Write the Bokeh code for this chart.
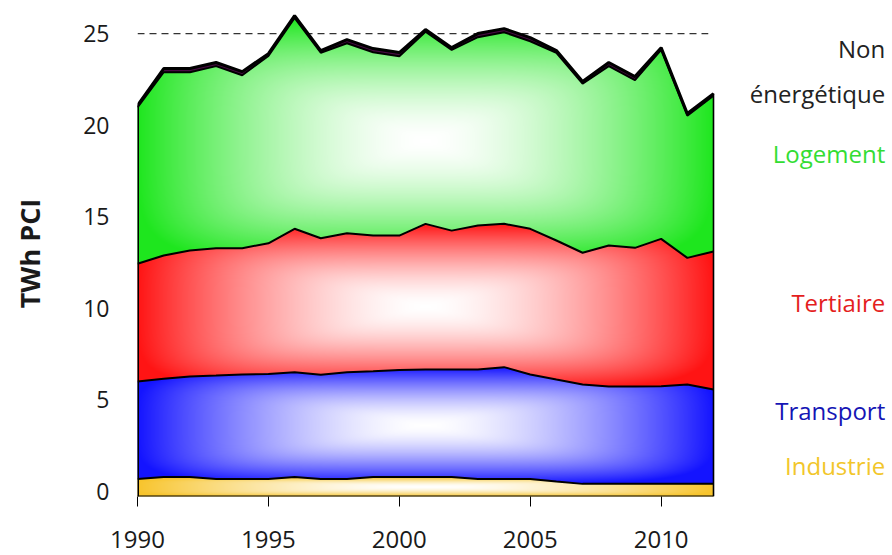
import numpy as np
from bokeh.plotting import figure
from bokeh.models import Label, Range1d, FixedTicker
from bokeh.embed import file_html
from bokeh.resources import INLINE

# ---------------- data (TWh PCI) ----------------
years = list(range(1990, 2013))
industrie = [0.66, 0.76, 0.76, 0.66, 0.66, 0.66, 0.76, 0.66, 0.66, 0.76, 0.76, 0.76,
             0.76, 0.66, 0.66, 0.66, 0.52, 0.39, 0.39, 0.39, 0.39, 0.39, 0.39]
transport = [5.32, 5.37, 5.50, 5.65, 5.71, 5.74, 5.73, 5.69, 5.83, 5.79, 5.86, 5.88,
             5.88, 5.98, 6.11, 5.71, 5.57, 5.43, 5.32, 5.32, 5.34, 5.43, 5.16]
tertiaire = [6.44, 6.74, 6.88, 6.96, 6.90, 7.14, 7.84, 7.46, 7.60, 7.41, 7.34, 7.96,
             7.59, 7.87, 7.83, 7.96, 7.60, 7.20, 7.71, 7.58, 8.05, 6.92, 7.54]
logement = [8.55, 10.02, 9.75, 9.95, 9.45, 10.24, 11.53, 10.14, 10.38, 10.02, 9.80, 10.50,
            9.88, 10.29, 10.47, 10.25, 10.26, 9.24, 9.80, 9.16, 10.33, 7.77, 8.51]
non_energetique = [0.10, 0.20, 0.20, 0.20, 0.20, 0.12, 0.12, 0.12, 0.20, 0.20, 0.20, 0.12,
                   0.12, 0.20, 0.20, 0.20, 0.12, 0.12, 0.20, 0.20, 0.12, 0.12, 0.12]

series_names = ["Industrie", "Transport", "Tertiaire", "Logement", "Non énergétique"]
fill_rgb = [(247, 196, 44), (20, 20, 255), (255, 20, 20), (30, 230, 30), (74, 10, 68)]
label_colors = ["#f2c62a", "#1515b5", "#e41e1e", "#33dd33", "#222222"]

x_ticks = [1990, 1995, 2000, 2005, 2010]
y_ticks = [0, 5, 10, 15, 20, 25]
reference_level = 25

FONT = "Open Sans"
y_floor, y_top = -0.3, 26.26

W, H = 890, 555
left_b, right_b, top_b, bottom_b = 137, 4, 10, 59
frame_w = W - left_b - right_b
span = years[-1] - years[0]
areas_w = 576                                   # px used by 1990..2012
x_end = years[0] + span * frame_w / areas_w      # room on the right for the labels

p = figure(width=W, height=H, output_backend="svg", toolbar_location=None,
           x_range=Range1d(years[0], x_end), y_range=Range1d(y_floor, y_top),
           min_border_left=left_b, min_border_right=right_b,
           min_border_top=top_b, min_border_bottom=bottom_b)
p.outline_line_color = None
p.xgrid.visible = False
p.ygrid.visible = False
p.background_fill_color = "white"

cum = np.cumsum(np.array([industrie, transport, tertiaire, logement, non_energetique]), axis=0)
hex_colors = ["#%02x%02x%02x" % c for c in fill_rgb]

# reference dashed line (drawn under the areas)
p.line([years[0], years[-1] - 0.2], [reference_level, reference_level],
       line_color="#333333", line_width=1.3, line_dash="7 5")

# solid underlay of each band
for k in range(5):
    lower = np.full(len(years), y_floor) if k == 0 else cum[k - 1]
    p.varea(x=years, y1=lower, y2=cum[k], fill_color=hex_colors[k])

# gradient rendering of the bands ("from centre" gradient)
nx, ny = areas_w, 486
xs = years[0] + (np.arange(nx) + 0.5) * span / nx
ys = y_floor + (np.arange(ny) + 0.5) * (y_top - y_floor) / ny
X, Y = np.meshgrid(xs, ys)
tops = [np.interp(xs, years, c)[None, :] for c in cum]
img = np.zeros((ny, nx, 4), dtype=np.uint8)
cx = (years[0] + years[-1]) / 2
hw = span / 2
for k in range(5):
    lo = np.full((1, nx), y_floor) if k == 0 else tops[k - 1]
    hi = tops[k]
    mask = (Y >= lo) & (Y < hi)
    col = np.array(fill_rgb[k], dtype=float)
    if k < 4:
        ymin = y_floor if k == 0 else cum[k - 1].min()
        ymax = cum[k].max()
        cy = (ymin + ymax) / 2
        hh = (ymax - ymin) / 2
        dx = np.abs(X - cx) / hw
        dy = np.abs(Y - cy) / hh
        t = ((dx ** 5 + dy ** 5) ** 0.2).clip(0, 1) ** 1.6
        rgb = 255 + (col[None, None, :] - 255) * t[..., None]
    else:
        rgb = np.broadcast_to(col, (ny, nx, 3))
    img[mask, :3] = np.round(rgb[mask]).astype(np.uint8)
    img[mask, 3] = 255
img = np.ascontiguousarray(img)
p.image_rgba(image=[img.view(np.uint32).reshape(ny, nx)], x=years[0], y=y_floor,
             dw=span, dh=y_top - y_floor)

# boundary lines
for k in range(4):
    p.line(years, cum[k], line_color="black", line_width=2)
p.line(years, cum[4], line_color="black", line_width=3)
p.segment(x0=[years[0], years[-1]], y0=[y_floor, y_floor],
          x1=[years[0], years[-1]], y1=[cum[4][0], cum[4][-1]],
          line_color="black", line_width=[3, 1.6])
# baseline (x axis line limited to the data span)
p.segment(x0=[years[0]], y0=[y_floor], x1=[years[-1]], y1=[y_floor],
          line_color="black", line_width=2)

# axes
xa = p.xaxis[0]
xa.ticker = FixedTicker(ticks=x_ticks)
xa.axis_line_color = None
xa.major_tick_line_color = "black"
xa.major_tick_line_width = 1
xa.major_tick_out = 10
xa.major_tick_in = 0
xa.minor_tick_line_color = None
xa.major_label_text_font = FONT
xa.major_label_text_font_size = "24px"
xa.major_label_text_color = "#1a1a1a"
xa.major_label_standoff = 24

ya = p.yaxis[0]
ya.ticker = FixedTicker(ticks=y_ticks)
ya.axis_line_color = None
ya.major_tick_line_color = None
ya.minor_tick_line_color = None
ya.major_tick_out = 0
ya.major_tick_in = 0
ya.major_label_standoff = 28
ya.major_label_text_font = FONT
ya.major_label_text_font_size = "23px"
ya.major_label_text_color = "#1a1a1a"
ya.axis_label = "TWh PCI"
ya.axis_label_text_font = FONT
ya.axis_label_text_font_size = "27px"
ya.axis_label_text_font_style = "bold"
ya.axis_label_text_color = "#1a1a1a"
ya.axis_label_standoff = 32

# right-hand series labels
lab_x = x_end - 0.05
label_specs = [
    ("Non", 24.18, label_colors[4]),
    ("énergétique", 21.72, label_colors[4]),
    ("Logement", 18.44, label_colors[3]),
    ("Tertiaire", 10.3, label_colors[2]),
    ("Transport", 4.4, label_colors[1]),
    ("Industrie", 1.39, label_colors[0]),
]
for txt, yy, colr in label_specs:
    p.add_layout(Label(x=lab_x, y=yy, text=txt, text_align="right", text_baseline="middle",
                       text_font=FONT, text_font_size="24px", text_color=colr))

open("out.html", "w").write(file_html(p, INLINE))
